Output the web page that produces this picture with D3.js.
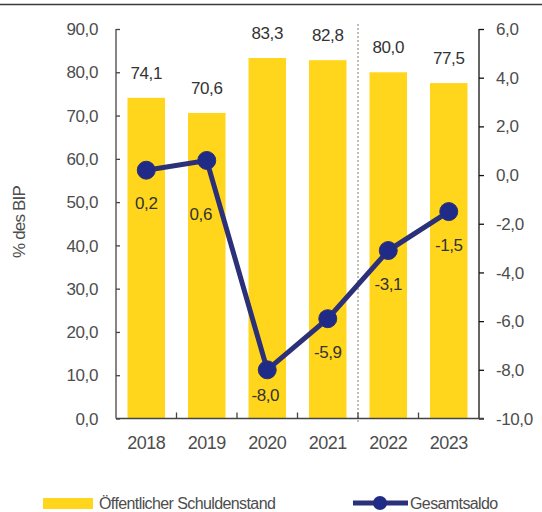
<!DOCTYPE html>
<html><head><meta charset="utf-8">
<script src="https://cdn.jsdelivr.net/npm/d3@7"></script>
<style>
html,body{margin:0;padding:0;background:#fff;}
text{font-family:"Liberation Sans",Arial,sans-serif;}
</style></head>
<body><svg id="c" width="542" height="512"></svg>
<script>
const years = ["2018","2019","2020","2021","2022","2023"];
const debt = [74.1, 70.6, 83.3, 82.8, 80.0, 77.5];
const balance = [0.2, 0.6, -8.0, -5.9, -3.1, -1.5];
const leftTicks = [0,10,20,30,40,50,60,70,80,90];
const rightTicks = [-10,-8,-6,-4,-2,0,2,4,6];
const seriesNames = ["Öffentlicher Schuldenstand", "Gesamtsaldo"];
const axisTitle = "% des BIP";

const svg = d3.select("#c");
const L = 116, R = 479, T = 29, B = 418.5;
const fmt = d => d.toFixed(1).replace(".", ",");

const x = d3.scaleBand().domain(years).range([L, R]).paddingInner(0.38).paddingOuter(0.19);
const yL = d3.scaleLinear().domain([0, 90]).range([B, T]);
const yR = d3.scaleLinear().domain([-10, 6]).range([B, T]);

// top rule
svg.append("line").attr("x1",0).attr("x2",542).attr("y1",4.5).attr("y2",4.5)
  .attr("stroke","#3a3a3a").attr("stroke-width",1.5);

// bars
svg.selectAll("rect.bar").data(debt).enter().append("rect")
  .attr("x",(d,i)=>x(years[i])).attr("width",x.bandwidth())
  .attr("y",d=>yL(d)).attr("height",d=>B-yL(d)).attr("fill","#FFD61C");

// dotted separator between 2021 and 2022
const step = x.step();
const sepX = x("2022") - (step - x.bandwidth())/2;
svg.append("line").attr("x1",sepX).attr("x2",sepX).attr("y1",24).attr("y2",424)
  .attr("stroke","#8a7a66").attr("stroke-width",1).attr("stroke-dasharray","2,2");

// bar labels
svg.selectAll("text.bl").data(debt).enter().append("text")
  .attr("x",(d,i)=>x(years[i])+x.bandwidth()/2).attr("y",d=>yL(d)-19)
  .attr("text-anchor","middle").attr("font-size",17).attr("fill","#333")
  .attr("letter-spacing",-0.4).text(fmt);

// left axis
const gl = svg.append("g").attr("transform",`translate(${L},0)`)
  .call(d3.axisRight(yL).tickValues(leftTicks).tickSize(4).tickFormat(""));
gl.select(".domain").attr("stroke","#444").attr("stroke-width",1.3).attr("d",`M0,${T}V${B}`);
gl.selectAll(".tick line").attr("stroke","#444").attr("stroke-width",1.3);
svg.selectAll("text.lt").data(leftTicks).enter().append("text")
  .attr("x",98).attr("y",d=>yL(d)).attr("dy","0.36em").attr("text-anchor","end")
  .attr("font-size",17).attr("fill","#4d4d4d").attr("letter-spacing",-0.4).text(fmt);

// right axis
const gr = svg.append("g").attr("transform",`translate(${R},0)`)
  .call(d3.axisRight(yR).tickValues(rightTicks).tickSize(5).tickFormat(""));
gr.select(".domain").attr("stroke","#111").attr("stroke-width",1.3).attr("d",`M0,${T}V${B}`);
gr.selectAll(".tick line").attr("stroke","#111").attr("stroke-width",1.3);
svg.selectAll("text.rt").data(rightTicks).enter().append("text")
  .attr("x",496).attr("y",d=>yR(d)).attr("dy","0.36em").attr("text-anchor","start")
  .attr("font-size",17).attr("fill","#4d4d4d").attr("letter-spacing",-0.4).text(fmt);

// bottom axis
svg.append("line").attr("x1",L).attr("x2",R+5).attr("y1",B).attr("y2",B)
  .attr("stroke","#444").attr("stroke-width",1.3);
const bounds = d3.range(1, years.length).map(i => L + i*step);
svg.selectAll("line.ct").data(bounds).enter().append("line")
  .attr("x1",d=>d).attr("x2",d=>d).attr("y1",B).attr("y2",B-6)
  .attr("stroke","#444").attr("stroke-width",1.3);
svg.selectAll("text.yr").data(years).enter().append("text")
  .attr("x",d=>x(d)+x.bandwidth()/2).attr("y",449).attr("text-anchor","middle")
  .attr("font-size",18).attr("fill","#4d4d4d").attr("letter-spacing",-0.5).text(d=>d);

// axis title
svg.append("text").attr("transform","translate(25,222) rotate(-90)")
  .attr("text-anchor","middle").attr("font-size",17).attr("fill","#4d4d4d")
  .attr("letter-spacing",-0.8).text(axisTitle);

// line
const cx = i => x(years[i]) + x.bandwidth()/2;
const line = d3.line().x((d,i)=>cx(i)).y(d=>yR(d));
svg.append("path").datum(balance).attr("d",line).attr("fill","none")
  .attr("stroke","#2b3078").attr("stroke-width",5);
svg.selectAll("circle.pt").data(balance).enter().append("circle")
  .attr("cx",(d,i)=>cx(i)).attr("cy",d=>yR(d)).attr("r",9)
  .attr("fill","#1f2b86").attr("stroke","#2b3078").attr("stroke-width",1);
const labelDy = [39, 60, 31, 39, 39, 39];
const labelDx = [0, -6, -2, 0, 0, 0];
svg.selectAll("text.ll").data(balance).enter().append("text")
  .attr("x",(d,i)=>cx(i)+labelDx[i]).attr("y",(d,i)=>yR(d)+labelDy[i])
  .attr("text-anchor","middle").attr("font-size",17).attr("fill","#333")
  .attr("letter-spacing",-0.4).text(fmt);

// legend
svg.append("rect").attr("x",43).attr("y",498).attr("width",50).attr("height",11).attr("fill","#FFD61C");
svg.append("text").attr("x",99).attr("y",503.5).attr("dy","0.35em").attr("font-size",16).attr("fill","#4d4d4d")
  .attr("letter-spacing",-0.6).text(seriesNames[0]);
svg.append("line").attr("x1",353).attr("x2",408).attr("y1",503).attr("y2",503)
  .attr("stroke","#2b3078").attr("stroke-width",5);
svg.append("circle").attr("cx",380).attr("cy",503).attr("r",7).attr("fill","#1f2b86");
svg.append("text").attr("x",410).attr("y",503.5).attr("dy","0.35em").attr("font-size",16).attr("fill","#4d4d4d")
  .attr("letter-spacing",-0.6).text(seriesNames[1]);
</script></body></html>
